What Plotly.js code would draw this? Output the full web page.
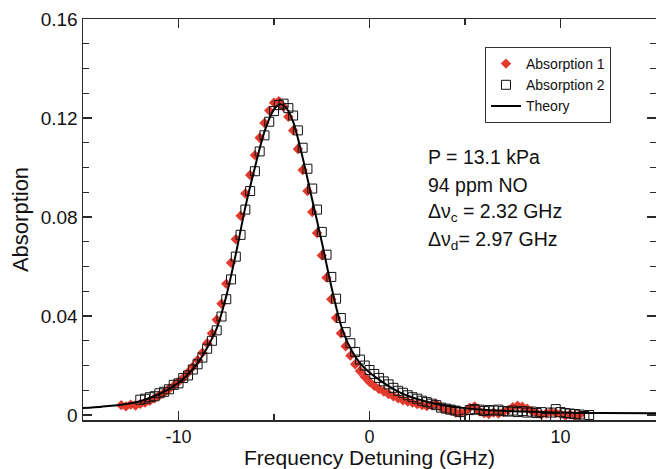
<!DOCTYPE html>
<html>
<head>
<meta charset="utf-8">
<script src="https://cdn.plot.ly/plotly-3.0.1.min.js"></script>
<style>html,body{margin:0;padding:0;background:#fff;}#chart{width:656px;height:469px;}</style>
</head>
<body>
<div id="chart"></div>
<script>
// Theory curve
var theoryX = [-15,-14,-13,-12,-11,-10,-9.5,-9,-8.5,-8,-7.5,-7,-6.5,-6,-5.5,-5,-4.7,-4.4,-4,-3.5,-3,-2.5,-2,-1.5,-1,-0.5,0,0.5,1,1.5,2,2.5,3,4,5,6,7,8,9,10,12,15];
var theoryY = [0.0028,0.0034,0.0042,0.0056,0.0085,0.0130,0.0165,0.0210,0.0272,0.0350,0.0480,0.0650,0.0840,0.1000,0.1145,0.1235,0.1255,0.1245,0.1185,0.1040,0.0870,0.0700,0.0520,0.0365,0.0270,0.0210,0.0172,0.0143,0.0117,0.0095,0.0078,0.0065,0.0054,0.0038,0.0028,0.0021,0.0017,0.0014,0.0012,0.0010,0.0008,0.0007];

// Absorption 2 (open squares)
var abs2X = [-12,-11.75,-11.5,-11.25,-11,-10.75,-10.5,-10.25,-10,-9.75,-9.5,-9.25,-9,-8.75,-8.5,-8.25,-8,-7.75,-7.5,-7.25,-7,-6.75,-6.5,-6.25,-6,-5.75,-5.5,-5.25,-5,-4.75,-4.5,-4.25,-4,-3.75,-3.5,-3.25,-3,-2.75,-2.5,-2.25,-2,-1.75,-1.5,-1.25,-1,-0.75,-0.5,-0.25,0,0.25,0.5,0.75,1,1.25,1.5,1.75,2,2.25,2.5,2.75,3,3.25,3.5,3.75,4,4.25,4.5,4.75,5,5.25,5.5,5.75,6,6.25,6.5,6.75,7,7.25,7.5,7.75,8,8.25,8.5,8.75,9,9.25,9.5,9.75,10,10.25,10.5,10.75,11,11.25,11.5];
var abs2Y = [0.0062,0.0066,0.0072,0.0076,0.0088,0.0094,0.0104,0.0122,0.0128,0.0150,0.0160,0.0184,0.0205,0.0232,0.0268,0.0300,0.0342,0.0398,0.0468,0.0548,0.0640,0.0728,0.0830,0.0905,0.0985,0.1065,0.1130,0.1185,0.1228,0.1252,0.1258,0.1240,0.1210,0.1150,0.1080,0.0995,0.0915,0.0830,0.0740,0.0648,0.0558,0.0470,0.0392,0.0335,0.0290,0.0255,0.0224,0.0200,0.0182,0.0166,0.0150,0.0136,0.0124,0.0110,0.0098,0.0090,0.0080,0.0072,0.0066,0.0058,0.0052,0.0046,0.0040,0.0030,0.0026,0.0022,0.0018,0.0012,-0.0015,0.0020,0.0024,0.0022,0.0016,0.0020,0.0018,0.0022,0.0016,0.0014,0.0018,0.0012,0.0016,0.0010,0.0014,0.0008,0.0012,-0.0012,0.0010,0.0024,0.0012,0.0008,0.0006,0.0004,0.0002,-0.0004,0.0000];

// Absorption 1 (red diamonds)
var abs1X = [-13,-12.75,-12.5,-12.25,-12,-11.75,-11.5,-11.25,-11,-10.75,-10.5,-10.25,-10,-9.75,-9.5,-9.25,-9,-8.75,-8.5,-8.25,-8,-7.75,-7.5,-7.25,-7,-6.75,-6.5,-6.25,-6,-5.75,-5.5,-5.25,-5,-4.75,-4.5,-4.25,-4,-3.75,-3.5,-3.25,-3,-2.75,-2.5,-2.25,-2,-1.75,-1.5,-1.25,-1,-0.75,-0.5,-0.25,0,0.25,0.5,0.75,1,1.25,1.5,1.75,2,2.25,2.5,2.75,3,3.25,3.5,3.75,4,4.25,4.5,4.75,5,5.25,5.5,5.75,6,6.25,6.5,6.75,7,7.25,7.5,7.75,8,8.25,8.5,8.75,9,9.25,9.5,9.75,10,10.25,10.5,10.75,11];
var abs1Y = [0.0040,0.0035,0.0042,0.0038,0.0045,0.0050,0.0058,0.0068,0.0080,0.0090,0.0105,0.0118,0.0135,0.0150,0.0172,0.0195,0.0222,0.0252,0.0290,0.0330,0.0385,0.0450,0.0530,0.0615,0.0710,0.0805,0.0895,0.0970,0.1050,0.1120,0.1180,0.1230,0.1262,0.1268,0.1245,0.1205,0.1150,0.1075,0.0990,0.0905,0.0820,0.0735,0.0645,0.0555,0.0468,0.0392,0.0330,0.0278,0.0240,0.0205,0.0178,0.0155,0.0134,0.0118,0.0105,0.0095,0.0085,0.0076,0.0068,0.0060,0.0055,0.0050,0.0044,0.0040,0.0036,0.0040,0.0045,0.0030,0.0022,0.0018,0.0010,0.0008,0.0012,0.0030,0.0035,0.0015,0.0008,0.0004,0.0010,0.0006,0.0012,0.0020,0.0032,0.0038,0.0034,0.0026,0.0016,0.0008,0.0002,0.0006,0.0012,0.0008,0.0004,-0.0002,0.0002,-0.0004,0.0000];

var xTickVals = [-10, 0, 10];
var xTickText = ['-10', '0', '10'];
var yTickVals = [0, 0.04, 0.08, 0.12, 0.16];
var yTickText = ['0', '0.04', '0.08', '0.12', '0.16'];

var infoLines = ['P = 13.1 kPa', '94 ppm NO', '\u0394\u03bd<sub>c</sub> = 2.32 GHz', '\u0394\u03bd<sub>d</sub>= 2.97 GHz'];

var FONT = 'Liberation Sans, Arial, Helvetica, sans-serif';
var AX = '#2a2a2a';

var traces = [
  {x: abs1X, y: abs1Y, name: 'Absorption 1', type: 'scatter', mode: 'markers',
   marker: {symbol: 'diamond', size: 8, color: '#e23a2c', line: {width: 0}}},
  {x: abs2X, y: abs2Y, name: 'Absorption 2', type: 'scatter', mode: 'markers',
   marker: {symbol: 'square-open', size: 9, color: '#111', line: {width: 1, color: '#111'}}},
  {x: theoryX, y: theoryY, name: 'Theory', type: 'scatter', mode: 'lines',
   line: {color: '#000', width: 2, shape: 'spline', smoothing: 0.8}}
];

var annotations = infoLines.map(function (t, i) {
  return {xref: 'paper', yref: 'paper', x: (426 - 83) / 573, y: (420 - (157 + 28 * i)) / 401,
          xanchor: 'left', yanchor: 'middle', showarrow: false, text: t,
          font: {family: FONT, size: 19.5, color: '#111'}};
});

var layout = {
  width: 656, height: 469,
  margin: {l: 83, r: 0, t: 19, b: 49, pad: 0},
  paper_bgcolor: '#fff', plot_bgcolor: '#fff',
  showlegend: true,
  font: {family: FONT, color: '#111'},
  xaxis: {
    range: [-15, 15], tickmode: 'array', tickvals: xTickVals, ticktext: xTickText,
    ticks: 'inside', ticklen: 9, tickwidth: 1.3, tickcolor: AX,
    minor: {dtick: 5, tick0: 0, ticks: 'inside', ticklen: 6, tickwidth: 1.2, tickcolor: AX, showgrid: false},
    showline: true, linecolor: AX, linewidth: 1.5, mirror: 'ticks',
    showgrid: false, zeroline: false,
    tickfont: {family: FONT, size: 18, color: '#111'},
    title: {text: 'Frequency Detuning (GHz)', font: {family: FONT, size: 21, color: '#111'}, standoff: 8}
  },
  yaxis: {
    range: [-0.002, 0.16], tickmode: 'array', tickvals: yTickVals, ticktext: yTickText,
    ticks: 'inside', ticklen: 9, tickwidth: 1.3, tickcolor: AX,
    minor: {dtick: 0.01, tick0: 0, ticks: 'inside', ticklen: 6, tickwidth: 1.2, tickcolor: AX, showgrid: false},
    showline: true, linecolor: AX, linewidth: 1.5, mirror: 'ticks',
    showgrid: false, zeroline: false,
    tickfont: {family: FONT, size: 19, color: '#111'},
    title: {text: 'Absorption', font: {family: FONT, size: 22, color: '#111'}, standoff: 6}
  },
  legend: {
    x: (485 - 83) / 573, y: (420 - 47) / 401, xanchor: 'left', yanchor: 'top',
    bgcolor: '#fff', bordercolor: '#333', borderwidth: 1,
    font: {family: FONT, size: 14, color: '#111'}, tracegroupgap: 0, itemwidth: 30
  },
  annotations: annotations
};

Plotly.newPlot('chart', traces, layout, {displayModeBar: false, staticPlot: true});
</script>
</body>
</html>
